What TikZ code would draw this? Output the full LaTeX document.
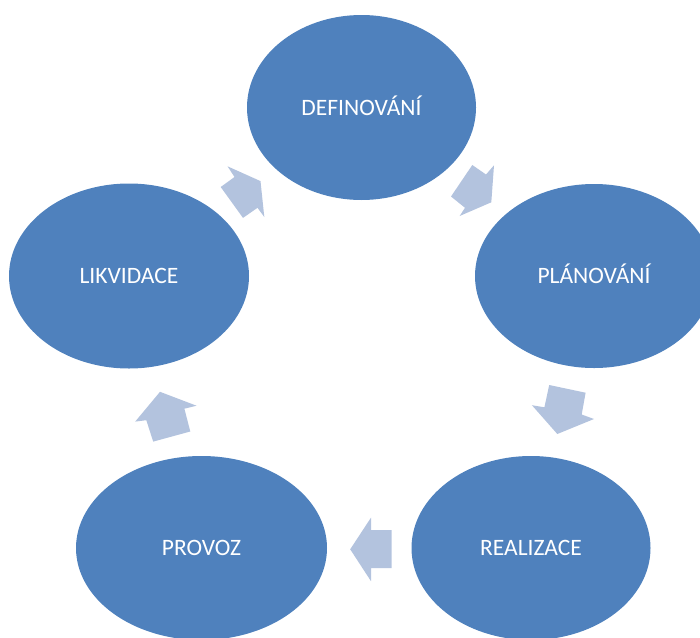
\documentclass[tikz,border=0pt]{standalone}
\usepackage{fontspec}
\setmainfont{Carlito}
\usetikzlibrary{shapes.geometric}
\definecolor{stageblue}{HTML}{4F81BD}
\definecolor{arrowblue}{RGB}{179,195,222}
\begin{document}
\begin{tikzpicture}[x=1pt,y=-1pt,
  stage/.style={ellipse,fill=stageblue,draw=none,inner sep=0pt,outer sep=0pt,
    text=white,font=\fontsize{23.5}{28}\selectfont,text height=15pt,text depth=0pt},
  blockarrow/.style={fill=arrowblue,draw=none}]
\useasboundingbox (0,0) rectangle (700,637);
\clip (0,0) rectangle (700,637);
\node[stage,minimum width=229pt,minimum height=185pt] (def) at (361.5,107.5) {DEFINOVÁNÍ};
\node[stage,minimum width=238pt,minimum height=184pt] (plan) at (594,276) {PLÁNOVÁNÍ};
\node[stage,minimum width=239pt,minimum height=184pt] (real) at (531,548) {REALIZACE};
\node[stage,minimum width=251pt,minimum height=184pt] (prov) at (201.5,548) {PROVOZ};
\node[stage,minimum width=240pt,minimum height=185pt] (likv) at (129,276) {LIKVIDACE};
% block arrows
\fill[blockarrow] (220.7,187) -- (234.5,177) -- (227.5,166.3) -- (260.5,181.1) -- (264.3,217) -- (257.5,207.8) -- (243,217.9) -- cycle;
\fill[blockarrow] (472.3,165) -- (486,174.5) -- (494,165.3) -- (491.3,202.3) -- (459.6,216) -- (465,207.8) -- (451,196.5) -- cycle;
\fill[blockarrow] (549.2,385) -- (585.6,392.7) -- (581.7,414.5) -- (594,419) -- (557.3,434) -- (531.9,405.2) -- (544.4,407.3) -- cycle;
\fill[blockarrow] (391.6,530) -- (371,530) -- (371,517.6) -- (350.2,549.3) -- (371,581.2) -- (371,568) -- (391.6,568) -- cycle;
\fill[blockarrow] (190.3,431.5) -- (184.4,408.7) -- (196.5,405.7) -- (160,391.8) -- (135.2,421.6) -- (146.3,420.2) -- (153.2,441.6) -- cycle;
\end{tikzpicture}
\end{document}
